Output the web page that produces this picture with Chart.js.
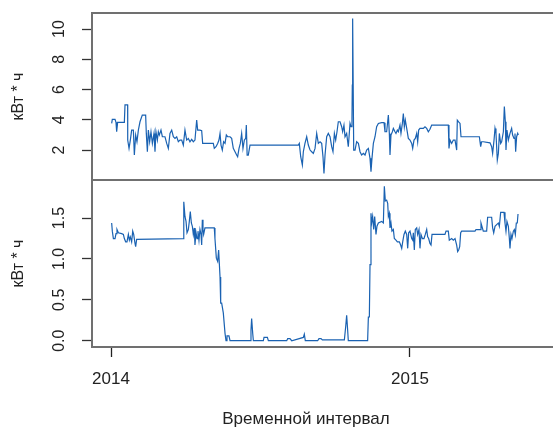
<!DOCTYPE html>
<html><head><meta charset="utf-8">
<script src="https://cdn.jsdelivr.net/npm/chart.js@4/dist/chart.umd.min.js"></script>
<style>
html,body{margin:0;padding:0;background:#fff;overflow:hidden;width:553px;height:427px}
#w1{position:absolute;left:0;top:0;width:553px;height:181px}
#w2{position:absolute;left:0;top:180px;width:553px;height:247px}
</style></head><body>
<div id="w1"><canvas id="c1"></canvas></div>
<div id="w2"><canvas id="c2"></canvas></div>
<script>
// x = days since 2014-01-01
const yearTicks = [0, 365];
const yearLabels = ['2014', '2015'];
const topTicks = [2, 4, 6, 8, 10];
const topTickLabels = ['2', '4', '6', '8', '10'];
const bottomTicks = [0, 0.5, 1, 1.5];
const bottomTickLabels = ['0.0', '0.5', '1.0', '1.5'];
const yLabel = 'кВт * ч';
const xTitle = 'Временной интервал';

const topDays = [0.8,1.6,4.9,6.1,6.9,8.1,16.3,17.1,20.3,20.4,22,23.6,25.2,27.3,28.5,30.1,31.7,33.4,35.4,38.2,42.3,43.1,44.4,45.6,47.2,48.8,50.5,52.5,53.7,54.9,56.6,57.8,59,61,62.7,65.9,68,70,72,74.1,76.1,78.1,80.2,82.2,84.2,86.3,88.3,90.3,92.4,94.4,96.4,98.5,100.5,102.5,104.6,105.8,108.6,110.7,111.9,114.7,124.9,126.1,128.2,130.2,131.8,133.1,134.3,135.9,137.5,139.2,140.8,142.4,145.3,147.3,149.3,151.4,153.4,154.6,156.3,157.9,159.5,161.1,162.8,164.4,165.2,166.2,167.6,169.7,228.7,229.9,231.6,233.6,234.8,236.8,238.9,240.9,243,245,247,249.1,251.1,253.1,255.2,257.2,258.8,260,261.3,263.3,265.3,267.4,269.4,271,272.7,274.3,275.9,277.5,279.6,281.6,282.8,284.4,285.7,287.7,289.7,291.8,293,294.2,294.6,295,296.3,297.9,299.9,302,304,306,308.1,310.1,312.1,314.2,316.2,317.4,318.6,320.3,322.3,324.3,326.4,330.4,333.3,334.5,336.5,338.6,339.8,340.6,341.8,343.5,344.7,346.7,347.9,349.6,350.8,352.8,354,355.7,356.9,358.1,359.3,361,363,365,367.1,368.3,369.9,371.5,373.2,374.4,375.6,377.2,381.3,383.3,385.4,387.4,389.4,391.5,411.8,412.6,413.9,415.9,417.9,420,422,422.8,424.4,426.1,427.3,449.7,450.5,451.3,452.5,454.5,462.7,464.7,465.9,467.6,468.8,470,471.6,472.9,474.1,475.7,476.9,479,480.2,481.4,482.2,483.4,485.1,487.1,489.1,490.3,492,493.2,494,495.2,496.5,497.3];
const topValues = [3.76,4.03,4.03,3.83,3.21,3.83,3.83,4.98,4.98,2.66,2.11,2.66,3.32,3.32,1.67,2.99,2.55,3.32,3.87,4.31,4.31,3.1,1.89,3.32,2.55,3.21,2.44,3.1,1.89,3.21,2.66,3.21,2.99,3.32,2.88,2.88,2.44,2.11,3.1,3.32,2.88,2.77,2.88,2.55,2.66,2.66,2.33,3.32,2.66,2.77,2.55,2.71,2.55,2.66,3.98,3.32,3.32,3.28,2.44,2.44,2.44,2.11,2.22,2.44,2.66,3.1,2.33,2.0,2.55,2.44,2.99,2.88,2.88,2.77,2.11,1.89,1.67,1.56,2.11,2.44,3.1,2.11,2.66,2.77,3.65,1.67,1.67,2.33,2.33,2.44,1.56,1.01,1.89,2.44,2.88,2.33,2.0,1.89,1.78,2.11,3.1,2.44,2.55,2.44,1.56,0.46,1.67,2.88,3.1,2.88,2.22,1.89,3.1,2.66,3.21,3.87,3.87,3.54,3.21,3.65,2.88,3.1,2.22,3.76,3.54,4.09,6.3,10.7,2.0,2.0,2.55,2.44,1.89,1.67,1.78,1.67,2.0,2.11,1.45,0.57,1.45,2.44,2.88,3.54,3.76,3.81,3.81,3.21,3.21,4.31,3.1,1.67,2.99,3.21,3.43,3.21,3.1,3.32,3.21,3.65,3.1,3.76,4.42,3.54,3.98,3.43,2.77,2.66,2.44,2.11,2.66,2.77,3.1,2.55,3.32,3.43,3.43,3.54,3.43,3.21,3.37,3.65,3.65,2.11,2.66,2.44,2.66,2.66,2.0,3.98,3.87,3.76,2.88,2.88,2.55,2.22,2.55,2.55,2.48,2.22,1.78,2.66,3.43,3.1,1.34,1.78,3.1,2.44,2.55,3.21,4.87,3.87,2.0,3.32,2.66,3.1,3.43,2.99,2.77,3.1,1.89,2.88,3.1,2.99];

const bottomDays = [0.8,1.6,2.9,4.9,6.1,7.3,9,13,15.1,16.3,17.9,19.5,21.2,22.4,23.6,25.2,26.5,27.7,29.3,30.1,31.3,88.3,88.6,89.1,90.3,91.6,92.8,94.4,95.6,96.8,98.1,99.3,100.5,101.7,102.5,103.8,105,106.2,107.4,108.6,109.9,110.7,111.5,112.3,113.1,114.7,126.1,126.9,128.6,130.2,131.4,133.1,133.9,135.1,137.1,139.2,140.4,141.6,144,145.3,170.3,170.9,171.7,173,173.8,186,186.8,190.9,192.1,214.5,215.7,218.5,220.6,234.8,236,237.2,252.3,253.9,256.4,258,284.9,286.5,287.7,288.9,289.7,313.3,314.2,315.4,316.2,317.4,318.2,319.4,320.7,321.9,323.5,324.7,326.4,330.4,332.5,333.7,334.9,336.5,337.8,338.6,339.8,340.6,341.8,343,344.7,345.9,347.9,349.6,352,353.6,354.9,356.1,357.7,359.3,361,362.2,363.4,365,367.1,368.3,369.1,370.3,371.5,373.2,374.4,376,377.2,378.4,380.1,382.1,383.7,385.4,386.6,387.8,389.4,390.7,391.9,407.7,409,411.8,413,415.9,417.9,420,422,423.2,424.4,425.7,426.9,428.1,444.4,445.6,450.5,451.7,454.5,458.6,459.8,464.7,465.9,467.2,468.8,470.8,472.9,474.1,475.7,479.8,481,482.2,483.4,485.1,486.3,487.1,488.3,489.5,491.2,492.4,493.6,494.8,496,496.9];
const bottomValues = [1.44,1.34,1.25,1.25,1.31,1.36,1.32,1.31,1.30,1.25,1.21,1.21,1.30,1.23,1.27,1.21,1.34,1.30,1.19,1.15,1.24,1.25,1.36,1.70,1.52,1.46,1.32,1.36,1.46,1.58,1.44,1.40,1.30,1.38,1.17,1.32,1.25,1.34,1.23,1.36,1.30,1.17,1.48,1.36,1.30,1.38,1.38,1.25,1.01,0.97,1.11,0.78,0.46,0.46,0.34,0.09,0,0.06,0.06,0,0,0.13,0.27,0.09,0,0,0.04,0.04,0,0,0.025,0.025,0,0.04,0.08,0,0,0.025,0.025,0.01,0.01,0.17,0.31,0.13,0,0,0.29,0.29,0.93,1.56,1.44,1.52,1.36,1.52,1.30,1.40,1.44,1.46,1.44,1.89,1.71,1.72,1.68,1.52,1.56,1.38,1.44,1.34,1.36,1.25,1.23,1.21,1.21,1.17,1.13,1.21,1.30,1.34,1.30,1.13,1.32,1.34,1.25,1.23,1.32,1.11,1.36,1.38,1.30,1.36,1.13,1.30,1.25,1.25,1.30,1.36,1.27,1.25,1.19,1.17,1.30,1.30,1.34,1.34,1.23,1.25,1.23,1.25,1.17,1.09,1.11,1.15,1.32,1.34,1.34,1.36,1.36,1.44,1.34,1.34,1.51,1.51,1.38,1.32,1.40,1.42,1.44,1.40,1.57,1.57,1.44,1.34,1.46,1.40,1.25,1.13,1.30,1.25,1.34,1.36,1.30,1.44,1.44,1.55];

const LINE = '#1a62b2';
const FONT = '"Liberation Sans", Arial, sans-serif';
const X_MIN = -23.2, X_MAX = 539.6;

function pts(xs, ys) { return xs.map((x, i) => ({ x: x, y: ys[i] })); }

function makePlugin(tickVals, tickLabs, withXTitle) {
  return {
    id: 'rbase',
    afterDraw(chart) {
      const ctx = chart.ctx, a = chart.chartArea, ys = chart.scales.y;
      ctx.save();
      ctx.strokeStyle = '#707070';
      ctx.lineWidth = 2;
      ctx.beginPath();
      ctx.moveTo(a.right + 2, a.top); ctx.lineTo(a.left, a.top);
      ctx.lineTo(a.left, a.bottom); ctx.lineTo(a.right + 2, a.bottom);
      ctx.stroke();
      ctx.fillStyle = '#222';
      ctx.font = '16px ' + FONT;
      ctx.textAlign = 'center';
      ctx.textBaseline = 'middle';
      tickVals.forEach((v, i) => {
        const py = ys.getPixelForValue(v);
        ctx.save(); ctx.translate(60, py); ctx.rotate(-Math.PI / 2);
        ctx.fillText(tickLabs[i], 0, 0); ctx.restore();
      });
      ctx.save(); ctx.translate(19, (a.top + a.bottom) / 2); ctx.rotate(-Math.PI / 2);
      ctx.fillText(yLabel, 0, 0); ctx.restore();
      if (withXTitle) {
        ctx.font = '17px ' + FONT;
        ctx.fillText(xTitle, 306, 239);
      }
      ctx.restore();
    }
  };
}

function yScale(min, max, ticks) {
  return {
    type: 'linear', min: min, max: max,
    afterBuildTicks: s => { s.ticks = ticks.map(v => ({ value: v })); },
    afterFit: s => { s.width = 92; },
    ticks: { display: false },
    grid: { drawOnChartArea: false, drawTicks: true, tickLength: 10, tickColor: '#333', tickWidth: 1.3 },
    border: { display: false }
  };
}

const common = {
  responsive: true, maintainAspectRatio: false, animation: false,
  plugins: { legend: { display: false }, tooltip: { enabled: false } },
  elements: { point: { radius: 0 }, line: { tension: 0 } }
};

new Chart(document.getElementById('c1'), {
  type: 'line',
  data: { datasets: [{ data: pts(topDays, topValues), borderColor: LINE, borderWidth: 1.2, fill: false }] },
  options: Object.assign({}, common, {
    layout: { padding: { top: 13, bottom: 1, left: 0, right: 0 } },
    scales: {
      x: { type: 'linear', min: X_MIN, max: X_MAX, display: false },
      y: yScale(0.02, 11.06, topTicks)
    }
  }),
  plugins: [makePlugin(topTicks, topTickLabels, false)]
});

new Chart(document.getElementById('c2'), {
  type: 'line',
  data: { datasets: [{ data: pts(bottomDays, bottomValues), borderColor: LINE, borderWidth: 1.2, fill: false }] },
  options: Object.assign({}, common, {
    layout: { padding: { top: 0, bottom: 0, left: 0, right: 0 } },
    scales: {
      x: {
        type: 'linear', min: X_MIN, max: X_MAX,
        afterBuildTicks: s => { s.ticks = yearTicks.map(v => ({ value: v })); },
        afterFit: s => { s.height = 80; },
        ticks: {
          autoSkip: false, maxRotation: 0, minRotation: 0, padding: 12,
          color: '#222', font: { size: 17, family: FONT },
          callback: (v) => { const i = yearTicks.indexOf(v); return i >= 0 ? yearLabels[i] : ''; }
        },
        grid: { drawOnChartArea: false, drawTicks: true, tickLength: 10, tickColor: '#222', tickWidth: 1.3 },
        border: { display: false }
      },
      y: yScale(-0.077, 1.966, bottomTicks)
    }
  }),
  plugins: [makePlugin(bottomTicks, bottomTickLabels, true)]
});
</script>
</body></html>
